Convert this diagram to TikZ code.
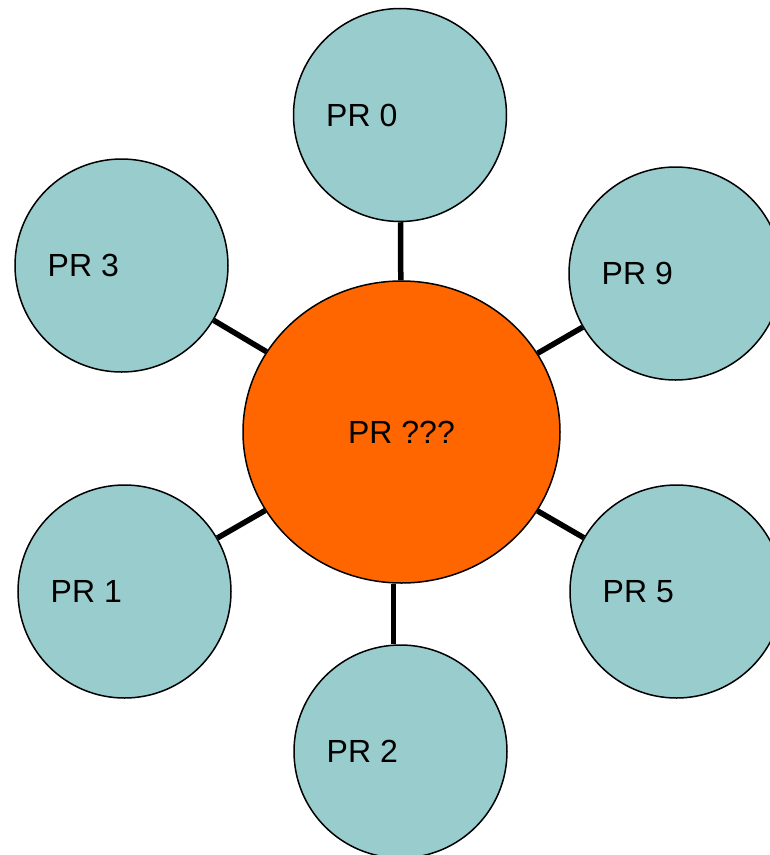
\documentclass[tikz,border=0pt]{standalone}
\usepackage{fontspec}
\setmainfont{Liberation Sans}
\usetikzlibrary{shapes.geometric}
\definecolor{teal1}{HTML}{99CCCC}
\definecolor{orange1}{HTML}{FF6600}
\tikzset{
  prcircle/.style={circle, draw=black, line width=1.5pt, fill=teal1, minimum size=213pt, inner sep=0pt},
  prtext/.style={anchor=west, inner sep=0pt, font=\fontsize{32}{38}\selectfont},
  hub/.style={ellipse, draw=black, line width=1.5pt, fill=orange1, minimum width=317pt, minimum height=302pt, inner sep=0pt, font=\fontsize{32}{38}\selectfont},
  link/.style={line width=5.5pt, draw=black}
}
\begin{document}
\begin{tikzpicture}[x=1pt,y=-1pt]
\useasboundingbox (0,0) rectangle (770,855);
\node[hub] (big) at (401.5,432) {PR ???};
\node[prcircle] (pr0) at (400,115) {};
\node[prcircle] (pr3) at (121.5,265.5) {};
\node[prcircle] (pr9) at (675.5,273.5) {};
\node[prcircle] (pr1) at (124.5,591.5) {};
\node[prcircle] (pr5) at (676.5,591.5) {};
\node[prcircle] (pr2) at (400.5,751.5) {};
\foreach \n/\t in {pr0/PR 0,pr3/PR 3,pr9/PR 9,pr1/PR 1,pr5/PR 5,pr2/PR 2}{
  \node[prtext] (\n t) at ([xshift=-74pt]\n.center) {\t};
}
\draw[link] (pr0) -- (big);
\draw[link] (pr3) -- (big);
\draw[link] (pr9) -- (big);
\draw[link] (pr1) -- (big);
\draw[link] (pr5) -- (big);
\draw[link] ([xshift=-8pt]big.south) -- ([xshift=-7pt]pr2.north);
\end{tikzpicture}
\end{document}
